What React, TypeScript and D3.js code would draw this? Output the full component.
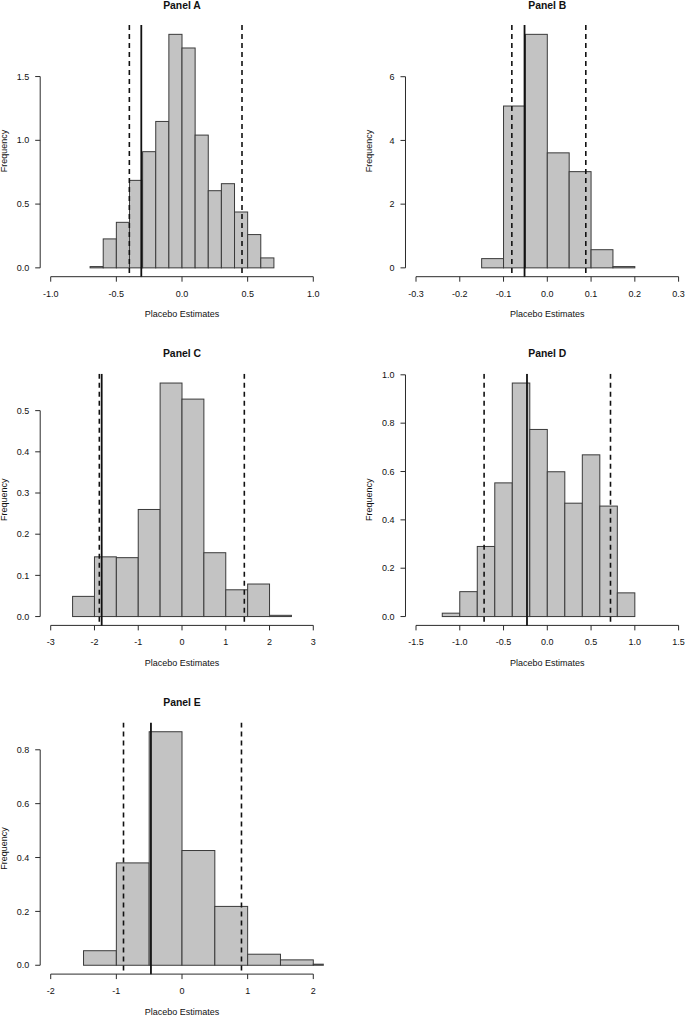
import React from "react";
import * as d3 from "d3";

// ---------- DATA ----------
const panelTitles = ["Panel A", "Panel B", "Panel C", "Panel D", "Panel E"];
const xAxisLabel = "Placebo Estimates";
const yAxisLabel = "Frequency";

// Panel A
const aBreaks = [-0.7, -0.6, -0.5, -0.4, -0.3, -0.2, -0.1, 0.0, 0.1, 0.2, 0.3, 0.4, 0.5, 0.6, 0.7];
const aHeights = [0.01, 0.227, 0.357, 0.686, 0.911, 1.148, 1.831, 1.724, 1.041, 0.605, 0.66, 0.438, 0.261, 0.078];
const aXTicks = [-1.0, -0.5, 0.0, 0.5, 1.0];
const aYTicks = [0.0, 0.5, 1.0, 1.5];
const aDashed = [-0.401, 0.457];
const aSolid = -0.31;

// Panel B
const bBreaks = [-0.15, -0.1, -0.05, 0.0, 0.05, 0.1, 0.15, 0.2];
const bHeights = [0.29, 5.08, 7.33, 3.61, 3.02, 0.57, 0.04];
const bXTicks = [-0.3, -0.2, -0.1, 0.0, 0.1, 0.2, 0.3];
const bYTicks = [0, 2, 4, 6];
const bDashed = [-0.081, 0.088];
const bSolid = -0.052;

// Panel C
const cBreaks = [-2.5, -2.0, -1.5, -1.0, -0.5, 0.0, 0.5, 1.0, 1.5, 2.0, 2.5];
const cHeights = [0.049, 0.145, 0.143, 0.26, 0.567, 0.528, 0.155, 0.065, 0.079, 0.003];
const cXTicks = [-3, -2, -1, 0, 1, 2, 3];
const cYTicks = [0.0, 0.1, 0.2, 0.3, 0.4, 0.5];
const cDashed = [-1.889, 1.424];
const cSolid = -1.835;

// Panel D
const dBreaks = [-1.2, -1.0, -0.8, -0.6, -0.4, -0.2, 0.0, 0.2, 0.4, 0.6, 0.8, 1.0];
const dHeights = [0.014, 0.103, 0.29, 0.553, 0.966, 0.774, 0.599, 0.469, 0.669, 0.457, 0.098];
const dXTicks = [-1.5, -1.0, -0.5, 0.0, 0.5, 1.0, 1.5];
const dYTicks = [0.0, 0.2, 0.4, 0.6, 0.8, 1.0];
const dDashed = [-0.722, 0.722];
const dSolid = -0.232;

// Panel E
const eBreaks = [-1.5, -1.0, -0.5, 0.0, 0.5, 1.0, 1.5, 2.0, 2.5];
const eHeights = [0.054, 0.38, 0.867, 0.426, 0.2185, 0.041, 0.02, 0.004];
const eXTicks = [-2, -1, 0, 1, 2];
const eYTicks = [0.0, 0.2, 0.4, 0.6, 0.8];
const eDashed = [-0.891, 0.906];
const eSolid = -0.473;

const xTickDecimals = [1, 1, 0, 1, 0];
const yTickDecimals = [1, 0, 1, 1, 1];

const panels = [
  { title: panelTitles[0], breaks: aBreaks, heights: aHeights, xTicks: aXTicks, yTicks: aYTicks, dashed: aDashed, solid: aSolid, xd: xTickDecimals[0], yd: yTickDecimals[0] },
  { title: panelTitles[1], breaks: bBreaks, heights: bHeights, xTicks: bXTicks, yTicks: bYTicks, dashed: bDashed, solid: bSolid, xd: xTickDecimals[1], yd: yTickDecimals[1] },
  { title: panelTitles[2], breaks: cBreaks, heights: cHeights, xTicks: cXTicks, yTicks: cYTicks, dashed: cDashed, solid: cSolid, xd: xTickDecimals[2], yd: yTickDecimals[2] },
  { title: panelTitles[3], breaks: dBreaks, heights: dHeights, xTicks: dXTicks, yTicks: dYTicks, dashed: dDashed, solid: dSolid, xd: xTickDecimals[3], yd: yTickDecimals[3] },
  { title: panelTitles[4], breaks: eBreaks, heights: eHeights, xTicks: eXTicks, yTicks: eYTicks, dashed: eDashed, solid: eSolid, xd: xTickDecimals[4], yd: yTickDecimals[4] },
];

// ---------- LAYOUT ----------
const W = 685;
const H = 1015;
const COL_W = 365.3;
const ROW_H = 348.7;
const PL = 40.2;
const PR = 323.8;
const PT = 25;
const PB = 277.2;
const FONT = "'Liberation Sans', Arial, Helvetica, sans-serif";
const AXIS_COLOR = "#2b2b2b";
const BAR_FILL = "#c3c3c3";
const BAR_STROKE = "#3a3a3a";

function fmt(v: number, d: number) {
  const s = v.toFixed(d);
  return s === "-0.0" ? "0.0" : s;
}

function Panel({ p, idx }: { p: any; idx: number }) {
  const col = idx % 2;
  const row = Math.floor(idx / 2);
  const ox = col * COL_W;
  const oy = row * ROW_H;
  const x0 = p.xTicks[0];
  const x1 = p.xTicks[p.xTicks.length - 1];
  const xr = x1 - x0;
  const x = d3.scaleLinear().domain([x0 - 0.04 * xr, x1 + 0.04 * xr]).range([PL, PR]);
  const ymax = d3.max(p.heights as number[]) as number;
  const y = d3.scaleLinear().domain([-0.04 * ymax, 1.04 * ymax]).range([PB, PT]);
  const clipId = `clip-${idx}`;
  const bins = (p.heights as number[]).map((h, i) => ({ a: p.breaks[i], b: p.breaks[i + 1], h }));
  const axY = PB - 0.5;
  return (
    <g transform={`translate(${ox},${oy})`}>
      <defs>
        <clipPath id={clipId}>
          <rect x={PL} y={PT} width={PR - PL} height={PB - PT} />
        </clipPath>
      </defs>
      <text x={(PL + PR) / 2} y={8.5} textAnchor="middle" fontFamily={FONT} fontWeight="bold" fontSize={10.4} fill="#111">
        {p.title}
      </text>
      <g clipPath={`url(#${clipId})`}>
        {bins.map((bn, i) => (
          <rect
            key={i}
            x={x(bn.a)}
            y={y(bn.h)}
            width={x(bn.b) - x(bn.a)}
            height={y(0) - y(bn.h)}
            fill={BAR_FILL}
            stroke={BAR_STROKE}
            strokeWidth={1}
          />
        ))}
        {(p.dashed as number[]).map((v, i) => (
          <line key={"d" + i} x1={x(v)} x2={x(v)} y1={PT} y2={PB} stroke="#111" strokeWidth={1.6} strokeDasharray="5,4" />
        ))}
        <line x1={x(p.solid)} x2={x(p.solid)} y1={PT} y2={PB} stroke="#111" strokeWidth={1.8} />
      </g>
      {/* x axis */}
      <line x1={x(x0)} x2={x(x1)} y1={axY} y2={axY} stroke={AXIS_COLOR} strokeWidth={1} />
      {(p.xTicks as number[]).map((t, i) => (
        <g key={"xt" + i}>
          <line x1={x(t)} x2={x(t)} y1={axY} y2={axY + 5} stroke={AXIS_COLOR} strokeWidth={1} />
          <text x={x(t)} y={PB + 19.5} textAnchor="middle" fontFamily={FONT} fontSize={9} fill="#111">
            {fmt(t, p.xd)}
          </text>
        </g>
      ))}
      {/* y axis */}
      <line x1={PL} x2={PL} y1={y(p.yTicks[0])} y2={y(p.yTicks[p.yTicks.length - 1])} stroke={AXIS_COLOR} strokeWidth={1} />
      {(p.yTicks as number[]).map((t, i) => (
        <g key={"yt" + i}>
          <line x1={PL - 5} x2={PL} y1={y(t)} y2={y(t)} stroke={AXIS_COLOR} strokeWidth={1} />
          <text x={PL - 11} y={y(t)} dy="0.35em" textAnchor="end" fontFamily={FONT} fontSize={9} fill="#111">
            {fmt(t, p.yd)}
          </text>
        </g>
      ))}
      <text x={(PL + PR) / 2} y={PB + 40} textAnchor="middle" fontFamily={FONT} fontSize={9} fill="#111">
        {xAxisLabel}
      </text>
      <text
        transform={`translate(7,${(PT + PB) / 2}) rotate(-90)`}
        textAnchor="middle"
        fontFamily={FONT}
        fontSize={9}
        fill="#111"
      >
        {yAxisLabel}
      </text>
    </g>
  );
}

export default function App() {
  return (
    <svg
      width={W}
      height={H}
      viewBox={`0 0 ${W} ${H}`}
      style={{ position: "absolute", left: 0, top: 0, display: "block", background: "#fff" }}
    >
      <rect x={0} y={0} width={W} height={H} fill="#fff" />
      {panels.map((p, i) => (
        <Panel key={i} p={p} idx={i} />
      ))}
    </svg>
  );
}
